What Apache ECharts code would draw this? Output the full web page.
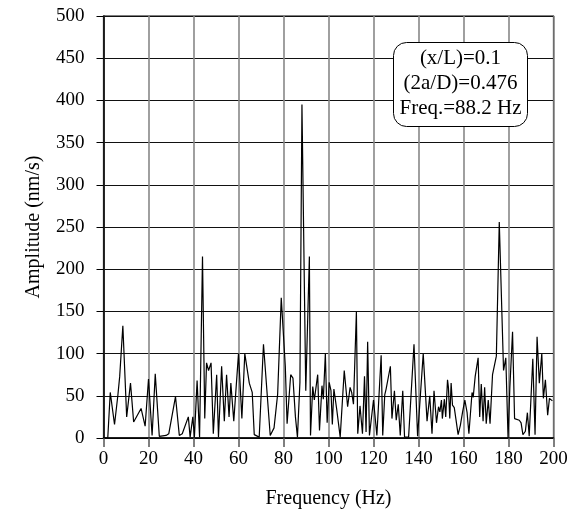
<!DOCTYPE html>
<html>
<head>
<meta charset="utf-8">
<script src="https://cdn.jsdelivr.net/npm/echarts@6/dist/echarts.min.js"></script>
<style>
  html, body { margin: 0; padding: 0; background: #fff; }
  #grafico { width: 571px; height: 523px; }
</style>
</head>
<body>
<div id="grafico"></div>
<script>
const freqs = [0, 1.9, 3, 4.9, 6.4, 7.2, 8.6, 10.3, 12, 13.4, 16.7, 18.5, 20, 21.6, 23, 24.8, 27.8, 29, 32, 33.7,
  35, 37.7, 38.5, 39.7, 40.4, 41.6, 42.7, 44, 45, 45.8, 46.7, 47.8, 48.8, 50.3, 51.1, 52.5, 53.7, 54.7, 55.8, 56.6,
  57.9, 60, 61.5, 62.8, 64.8, 66.1, 67, 69.2, 71.1, 74.1, 75.8, 77.4, 79, 80.8, 81.6, 83.2, 84.2, 85.3, 86.2, 87.3,
  88.2, 89.9, 91.5, 92, 93, 93.7, 94.3, 95.2, 96, 97.1, 97.7, 98.6, 99.4, 100.3, 100.7, 101.1, 101.7, 102.4, 103.6, 105.2,
  107, 108.5, 109.6, 110.3, 111.1, 112.4, 113, 114, 115.1, 116, 116.7, 117.4, 118.2, 120, 121.5, 123.4, 124.1, 125, 125.6, 127.5,
  128.2, 129.3, 130.1, 131, 131.9, 133, 133.8, 135.6, 138, 139.6, 142.1, 143.8, 145, 146, 146.9, 148, 148.9, 149.5, 150.2, 150.6,
  151.5, 152.1, 152.9, 153.3, 153.9, 154.5, 155.1, 155.9, 156.6, 157.6, 158.6, 159.6, 160.6, 161.6, 162.4, 163.8, 164.3, 165.2, 166.5, 167.2,
  167.9, 168.7, 169.4, 170.1, 171, 171.8, 172.9, 174.6, 175.9, 177.8, 178.8, 179.8, 180.6, 181.8, 182.7, 184.8, 185.6, 186.4, 187.5, 188.4,
  189.2, 190.8, 191.8, 192.7, 193.7, 194.8, 195.5, 196.4, 197.4, 198.2, 199.5];
const amplitudes = [0, 0, 54, 16, 51, 73, 133, 25, 65, 19, 35, 14, 70, 3, 76, 2, 3, 5, 49, 3,
  5, 25, 1, 25, 1, 68, 1, 215, 23, 89, 80, 89, 5, 75, 1, 85, 20, 75, 25, 65,
  20, 100, 23, 100, 65, 54, 4, 1, 111, 3, 12, 52, 166, 85, 17, 75, 71, 25, 1, 66,
  395, 56, 215, 3, 61, 45, 47, 75, 9, 62, 46, 100, 18, 66, 64, 56, 16, 58, 35, 1,
  80, 37, 60, 54, 40, 150, 5, 38, 5, 73, 7, 114, 3, 45, 3, 98, 3, 51, 58, 85,
  23, 56, 21, 40, 3, 56, 1, 1, 111, 2, 100, 20, 50, 5, 56, 18, 37, 31, 45, 23,
  46, 25, 69, 60, 23, 65, 39, 36, 23, 4, 15, 31, 45, 30, 5, 54, 48, 73, 95, 25,
  64, 20, 60, 17, 45, 17, 75, 97, 256, 80, 95, 0, 60, 126, 23, 21, 18, 4, 8, 30,
  2, 94, 4, 120, 65, 100, 47, 69, 27, 47, 44];
const infoLines = ['(x/L)=0.1', '(2a/D)=0.476', 'Freq.=88.2 Hz'];

const serie = freqs.map((f, i) => [f, amplitudes[i]]);
const fuente = '"Liberation Serif", "DejaVu Serif", serif';

const chartDom = document.getElementById('grafico');
const myChart = echarts.init(chartDom);

const option = {
    animation: false,
    backgroundColor: '#fff',
    grid: {
        left: 103.5, right: 17.5, top: 16, bottom: 85,
        show: true, borderColor: '#000', borderWidth: 1.2
    },
    xAxis: {
        type: 'value', min: 0, max: 200, interval: 20,
        name: 'Frequency (Hz)', nameLocation: 'middle', nameGap: 51,
        nameTextStyle: { fontFamily: fuente, fontSize: 20, color: '#000' },
        axisLine: { lineStyle: { color: '#000', width: 1.5 } },
        axisTick: { show: true, inside: false, length: 9, lineStyle: { color: '#555', width: 1.5 } },
        axisLabel: { margin: 12, fontFamily: fuente, fontSize: 19, color: '#000' },
        splitLine: { lineStyle: { color: '#888', width: 1.6 } }
    },
    yAxis: {
        type: 'value', min: 0, max: 500, interval: 50,
        name: 'Amplitude (nm/s)', nameLocation: 'middle', nameGap: 60,
        nameTextStyle: { fontFamily: fuente, fontSize: 20, color: '#000' },
        axisLine: { show: true, lineStyle: { color: '#000', width: 1.5 } },
        axisTick: { show: true, length: 7, lineStyle: { color: '#000', width: 1 } },
        axisLabel: { margin: 19, fontFamily: fuente, fontSize: 19, color: '#000' },
        splitLine: { lineStyle: { color: '#111', width: 1 } }
    },
    series: [{
        type: 'line',
        data: serie,
        symbol: 'none',
        lineStyle: { color: '#000', width: 1.2 },
        z: 3
    }],
    // Recuadro con los parametros del ensayo (opaco, por encima de la rejilla)
    graphic: [{
        type: 'group',
        left: 393, top: 42,
        z: 100,
        children: [{
            type: 'rect',
            z: 100,
            shape: { x: 0, y: 0, width: 134, height: 84, r: 13 },
            style: { fill: '#fff', stroke: '#000', lineWidth: 1 }
        }, {
            type: 'text',
            z: 101,
            x: 67, y: 41,
            style: {
                text: infoLines.join('\n'),
                fontFamily: fuente, fontSize: 21, lineHeight: 25,
                fill: '#000', align: 'center', verticalAlign: 'middle'
            }
        }]
    }]
};

option && myChart.setOption(option);
</script>
</body>
</html>
